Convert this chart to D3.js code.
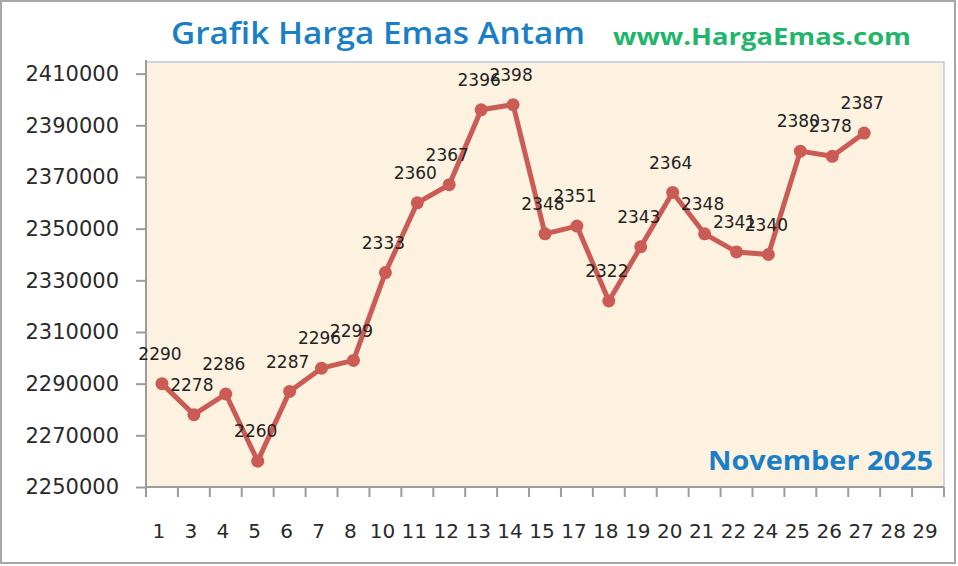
<!DOCTYPE html>
<html lang="id">
<head>
	<meta charset="utf-8"/>
	<title>Grafik Harga Emas Antam</title>
	<script src="https://d3js.org/d3.v7.min.js"></script>
	<style>
	  body { margin: 0; background: #fff; }
	  .axis text { font-family: "DejaVu Sans", sans-serif; fill: #2a2a2a; }
	  .axis .domain, .axis line { stroke: #9c9c9c; stroke-width: 2px; }
	  .lbl { font-family: "DejaVu Sans", sans-serif; font-size: 17px; fill: #222; }
	</style>
</head>
<body>
<svg id="chart" width="958" height="566"></svg>

<script>
// tanggal (kategori sumbu x)
var days = ["1","3","4","5","6","7","8","10","11","12","13","14","15","17","18","19","20","21","22","24","25","26","27","28","29"];
// harga per gram (rupiah)
var prices = [2290000, 2278000, 2286000, 2260000, 2287000, 2296000, 2299000, 2333000, 2360000, 2367000,
	2396000, 2398000, 2348000, 2351000, 2322000, 2343000, 2364000, 2348000, 2341000, 2340000,
	2380000, 2378000, 2387000];
var yTicks = [2250000, 2270000, 2290000, 2310000, 2330000, 2350000, 2370000, 2390000, 2410000];

var svg = d3.select("#chart");
var margin = {top: 62, right: 14, bottom: 79, left: 146},
	width = 958 - margin.left - margin.right,
	height = 566 - margin.top - margin.bottom;

// outer frame
svg.append("rect")
	.attr("x", 1).attr("y", 1)
	.attr("width", 954).attr("height", 562)
	.attr("fill", "#fff")
	.attr("stroke", "#a8a8a8")
	.attr("stroke-width", 2);

var g = svg.append("g").attr("transform", "translate(" + margin.left + "," + margin.top + ")");

var x = d3.scaleBand().domain(days).range([0, width]);
var y = d3.scaleLinear().domain([2250000, 2414500]).range([height, 0]);

// plot area
g.append("rect")
	.attr("width", width).attr("height", height)
	.attr("fill", "#fdf2e0")
	.attr("stroke", "#bccbe0")
	.attr("stroke-width", 1.5);

// y axis
var yAxis = g.append("g")
	.attr("class", "axis")
	.call(d3.axisLeft(y).tickValues(yTicks).tickSize(10).tickPadding(17).tickFormat(d3.format("d")));
yAxis.selectAll("text").attr("font-size", 21);
yAxis.select(".domain").attr("d", "M0,-2V" + height);

// x axis (ticks between categories)
var xAxis = g.append("g")
	.attr("class", "axis")
	.attr("transform", "translate(0," + height + ")")
	.call(d3.axisBottom(x).tickSize(0).tickPadding(37));
xAxis.selectAll("text").attr("font-size", 20).attr("dx", "-3");
xAxis.select(".domain").attr("d", "M0,0H" + width);
xAxis.selectAll(".sep")
	.data(d3.range(days.length + 1))
	.enter().append("line")
	.attr("class", "sep")
	.attr("x1", function(i) { return i * x.step(); })
	.attr("x2", function(i) { return i * x.step(); })
	.attr("y1", 0).attr("y2", 10);

var cx = function(d, i) { return x(days[i]) + x.bandwidth() / 2; };

// line
g.append("path")
	.datum(prices)
	.attr("fill", "none")
	.attr("stroke", "#cb5c55")
	.attr("stroke-width", 5)
	.attr("stroke-linejoin", "round")
	.attr("d", d3.line().x(cx).y(function(d) { return y(d); }));

g.selectAll("circle")
	.data(prices)
	.enter().append("circle")
	.attr("cx", cx)
	.attr("cy", function(d) { return y(d); })
	.attr("r", 6.5)
	.attr("fill", "#cb5c55");

// data labels (ribuan)
g.selectAll(".lbl")
	.data(prices)
	.enter().append("text")
	.attr("class", "lbl")
	.attr("x", function(d, i) { return cx(d, i) - 2; })
	.attr("y", function(d) { return y(d) - 30; })
	.attr("dy", "0.36em")
	.attr("text-anchor", "middle")
	.text(function(d) { return Math.round(d / 1000); });

// titles
svg.append("text")
	.attr("x", 171).attr("y", 44)
	.attr("font-family", "'Open Sans', sans-serif")
	.attr("font-weight", 600)
	.attr("font-size", 31)
	.attr("fill", "#1a7fc6")
	.attr("textLength", 414)
	.attr("lengthAdjust", "spacingAndGlyphs")
	.text("Grafik Harga Emas Antam");

svg.append("text")
	.attr("x", 613).attr("y", 45)
	.attr("font-family", "'Open Sans', sans-serif")
	.attr("font-weight", 700)
	.attr("font-size", 23)
	.attr("fill", "#1fb56b")
	.attr("textLength", 298)
	.attr("lengthAdjust", "spacingAndGlyphs")
	.text("www.HargaEmas.com");

svg.append("text")
	.attr("x", 708).attr("y", 470)
	.attr("font-family", "'Open Sans', sans-serif")
	.attr("font-weight", 700)
	.attr("font-size", 27)
	.attr("fill", "#1a7fc6")
	.attr("textLength", 225)
	.attr("lengthAdjust", "spacingAndGlyphs")
	.text("November 2025");
</script>
</body>
</html>
